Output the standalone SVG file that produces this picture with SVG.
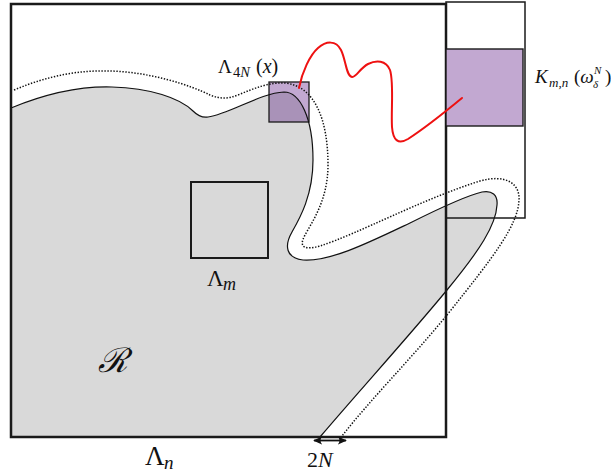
<svg xmlns="http://www.w3.org/2000/svg" width="611" height="474" viewBox="0 0 611 474">
<defs>
<style>
.region{fill:#d9d9d9;stroke:none}
.outline{fill:none;stroke:#111;stroke-width:1.2}
.dotted{fill:none;stroke:#111;stroke-width:1.5;stroke-dasharray:1.4 1.6}
.box{fill:none;stroke:#1a1a1a}
.purple{fill:#c2a8d1;stroke:#1a1a1a;stroke-width:1.4}
.red{fill:none;stroke:#ee1111;stroke-width:2;stroke-linecap:round}
.t{font-family:"Liberation Serif","DejaVu Serif",serif;fill:#111}
.i{font-style:italic}
</style>
<path id="regionShape" d="M 11,108 C 45,94 80,86 112,87 C 150,88 180,98 193,111 C 198,116 202,118 208,117 C 230,114 260,93 284,92 C 300,92 313,118 313,160 C 313,195 300,218 292,232 C 284,246 286,258 303,260 C 330,262 370,242 410,223 C 440,208 465,196 482,192 C 492,190 498,195 497,205 C 496,225 480,250 447,290 C 410,335 360,390 320,437 L 11,437 Z"/>
<clipPath id="sqClip"><rect x="269" y="82" width="40" height="40"/></clipPath>
<marker id="ah" viewBox="0 0 10 10" refX="9" refY="5" markerWidth="9" markerHeight="8" orient="auto-start-reverse" markerUnits="userSpaceOnUse" preserveAspectRatio="none">
<path d="M0,0 Q3.5,5 0,10 L10,5 Z" fill="#111"/>
</marker>
</defs>
<rect width="611" height="474" fill="#fff"/>
<g id="region-R">
<use href="#regionShape" class="region"/>
</g>
<g id="lambda-4N">
<rect x="269" y="82" width="40" height="40" fill="#c2a8d1"/>
<use href="#regionShape" fill="#a992b8" stroke="none" clip-path="url(#sqClip)"/>
<rect x="269" y="82" width="40" height="40" fill="none" stroke="#1a1a1a" stroke-width="1.3"/>
<text class="t" x="218" y="73" font-size="19">Λ</text>
<text class="t" x="233" y="77" font-size="14.5">4<tspan class="i">N</tspan></text>
<text class="t" x="256" y="73" font-size="20">(<tspan class="i">x</tspan>)</text>
</g>
<g id="region-R-boundary">
<use href="#regionShape" class="outline"/>
</g>
<g id="lambda-n">
<rect class="box" x="11" y="4" width="435" height="433" stroke-width="2.5"/>
<text class="t" x="145" y="465" font-size="27">Λ</text>
<text class="t i" x="164" y="469" font-size="19">n</text>
</g>
<g id="K-box">
<rect class="box" x="446" y="2" width="79" height="216" stroke-width="1.5"/>
<rect class="purple" x="446" y="49" width="77" height="77"/>
<text class="t i" x="535" y="83" font-size="19">K</text>
<text class="t i" x="549" y="87" font-size="13">m,n</text>
<text class="t" x="574" y="83" font-size="19">(<tspan class="i">ω</tspan></text>
<text class="t i" x="593" y="88" font-size="11">δ</text>
<text class="t i" x="594" y="74" font-size="11">N</text>
<text class="t" x="605" y="83" font-size="19">)</text>
</g>
<g id="lambda-m">
<rect class="box" x="191" y="182" width="77" height="76" stroke-width="2"/>
<text class="t" x="207" y="286" font-size="23">Λ</text>
<text class="t i" x="223" y="290" font-size="18">m</text>
</g>
<g id="R-label">
<text class="t i" x="98" y="372" font-size="34" font-family="'DejaVu Serif',serif">ℛ</text>
</g>
<g id="connectors">
<path class="dotted" d="M 14,90 C 50,75 80,70 110,71 C 150,72 190,85 210,95 C 220,99 228,99 238,95 C 255,88 270,82 285,83 C 315,86 328,120 328,165 C 328,200 312,222 305,235 C 298,248 305,250 320,246 C 360,233 420,200 480,181 C 505,174 520,183 519,200 C 518,225 495,255 447,315 C 410,360 370,400 342,436"/>
<path class="red" d="M 299,88 C 302,72 310,55 318,48 C 326,41 336,40 341,50 C 346,60 346,76 352,77 C 356,78 360,68 368,64 C 376,60 386,60 390,70 C 394,82 391,110 392,127 C 393,140 398,145 408,139 C 425,128 445,112 462,98"/>
<line x1="314" y1="440.5" x2="346" y2="440.5" stroke="#111" stroke-width="1.8" marker-start="url(#ah)" marker-end="url(#ah)"/>
<text class="t" x="307" y="467" font-size="22">2<tspan class="i">N</tspan></text>
</g>
</svg>
